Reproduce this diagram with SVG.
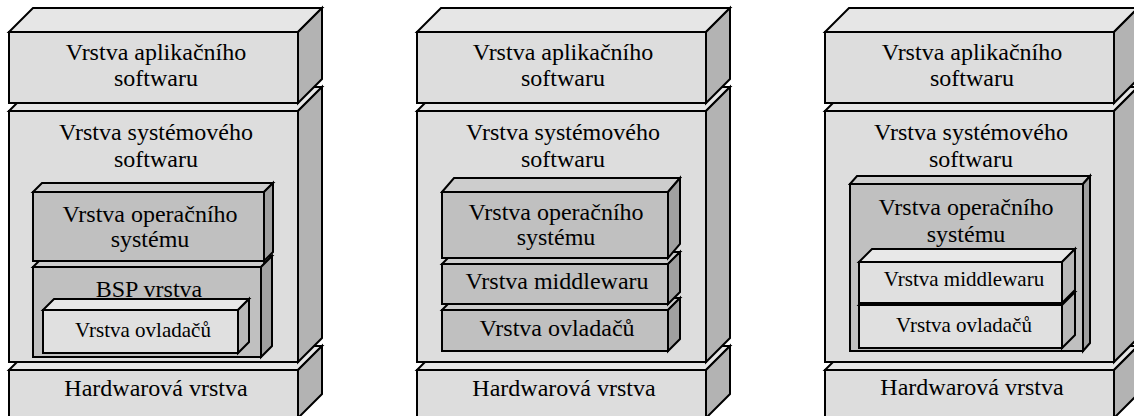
<svg xmlns="http://www.w3.org/2000/svg" width="1134" height="416" viewBox="0 0 1134 416">
  <style>
    polygon, rect { stroke: #000; stroke-width: 2; stroke-linejoin: miter; }
    .f1 { fill: #dddddd; } .t1 { fill: #e6e6e6; } .s1 { fill: #b3b3b3; }
    .f2 { fill: #c0c0c0; } .t2 { fill: #cdcdcd; } .s2 { fill: #a0a0a0; }
    .f3 { fill: #e0e0e0; } .t3 { fill: #e8e8e8; } .s3 { fill: #b8b8b8; }
    text { font-family: "Liberation Serif", "Times New Roman", serif; font-size: 24px; fill: #000; text-anchor: middle; }
    text.sm { font-size: 21px; }
  </style>

  <!-- Stack 1: BSP layer with drivers -->
  <g id="stack-bsp">
    <g id="hw-1">
      <polygon class="t1" points="9,370 33,346 322,346 298,370"/>
      <polygon class="s1" points="298,370 322,346 322,394 298,418"/>
      <rect class="f1" x="9" y="370" width="289" height="48"/>
      <text x="156" y="396">Hardwarová vrstva</text>
    </g>
    <g id="sys-1">
      <polygon class="t1" points="9,111 33,87 322,87 298,111"/>
      <polygon class="s1" points="298,111 322,87 322,338 298,362"/>
      <rect class="f1" x="9" y="111" width="289" height="251"/>
      <text x="156" y="140">Vrstva systémového</text>
      <text x="156" y="167">softwaru</text>
    </g>
    <g id="bsp-1">
      <polygon class="t2" points="33,267 44,256 272,256 261,267"/>
      <polygon class="s2" points="261,267 272,256 272,346 261,357"/>
      <rect class="f2" x="33" y="267" width="228" height="90"/>
      <text x="149" y="297">BSP vrstva</text>
    </g>
    <g id="drv-1">
      <polygon class="t3" points="43,310 54,299 249,299 238,310"/>
      <polygon class="s3" points="238,310 249,299 249,342 238,353"/>
      <rect class="f3" x="43" y="310" width="195" height="43"/>
      <text class="sm" x="143" y="337">Vrstva ovladačů</text>
    </g>
    <g id="os-1">
      <polygon class="t2" points="33,192 42,183 273,183 264,192"/>
      <polygon class="s2" points="264,192 273,183 273,252 264,261"/>
      <rect class="f2" x="33" y="192" width="231" height="69"/>
      <text x="150" y="222">Vrstva operačního</text>
      <text x="150" y="247">systému</text>
    </g>
    <g id="app-1">
      <polygon class="t1" points="9,32 33,8 322,8 298,32"/>
      <polygon class="s1" points="298,32 322,8 322,79 298,103"/>
      <rect class="f1" x="9" y="32" width="289" height="71"/>
      <text x="156" y="60">Vrstva aplikačního</text>
      <text x="156" y="86">softwaru</text>
    </g>
  </g>

  <!-- Stack 2: OS, middleware and drivers side by side -->
  <g id="stack-flat">
    <g id="hw-2">
      <polygon class="t1" points="417,370 441,346 730,346 706,370"/>
      <polygon class="s1" points="706,370 730,346 730,394 706,418"/>
      <rect class="f1" x="417" y="370" width="289" height="48"/>
      <text x="564" y="396">Hardwarová vrstva</text>
    </g>
    <g id="sys-2">
      <polygon class="t1" points="417,111 441,87 730,87 706,111"/>
      <polygon class="s1" points="706,111 730,87 730,338 706,362"/>
      <rect class="f1" x="417" y="111" width="289" height="251"/>
      <text x="563" y="140">Vrstva systémového</text>
      <text x="563" y="167">softwaru</text>
    </g>
    <g id="drv-2">
      <polygon class="t2" points="442,310 454,298 680,298 668,310"/>
      <polygon class="s2" points="668,310 680,298 680,339 668,351"/>
      <rect class="f2" x="442" y="310" width="226" height="41"/>
      <text x="557" y="336">Vrstva ovladačů</text>
    </g>
    <g id="mw-2">
      <polygon class="t2" points="442,264 454,252 680,252 668,264"/>
      <polygon class="s2" points="668,264 680,252 680,292 668,304"/>
      <rect class="f2" x="442" y="264" width="226" height="40"/>
      <text x="557" y="289">Vrstva middlewaru</text>
    </g>
    <g id="os-2">
      <polygon class="t2" points="442,192 454,178 680,178 668,192"/>
      <polygon class="s2" points="668,192 680,178 680,244 668,258"/>
      <rect class="f2" x="442" y="192" width="226" height="66"/>
      <text x="556" y="220">Vrstva operačního</text>
      <text x="556" y="245">systému</text>
    </g>
    <g id="app-2">
      <polygon class="t1" points="417,32 441,8 730,8 706,32"/>
      <polygon class="s1" points="706,32 730,8 730,79 706,103"/>
      <rect class="f1" x="417" y="32" width="289" height="71"/>
      <text x="563" y="60">Vrstva aplikačního</text>
      <text x="563" y="86">softwaru</text>
    </g>
  </g>

  <!-- Stack 3: middleware and drivers inside the OS layer -->
  <g id="stack-nested">
    <g id="hw-3">
      <polygon class="t1" points="825,370 849,346 1138,346 1114,370"/>
      <polygon class="s1" points="1114,370 1138,346 1138,394 1114,418"/>
      <rect class="f1" x="825" y="370" width="289" height="48"/>
      <text x="972" y="395">Hardwarová vrstva</text>
    </g>
    <g id="sys-3">
      <polygon class="t1" points="825,111 849,87 1138,87 1114,111"/>
      <polygon class="s1" points="1114,111 1138,87 1138,338 1114,362"/>
      <rect class="f1" x="825" y="111" width="289" height="251"/>
      <text x="971" y="140">Vrstva systémového</text>
      <text x="971" y="167">softwaru</text>
    </g>
    <g id="os-3">
      <polygon class="t2" points="850,184 857,176 1090,176 1083,184"/>
      <polygon class="s2" points="1083,184 1090,176 1090,343 1083,351"/>
      <rect class="f2" x="850" y="184" width="233" height="167"/>
      <text x="966" y="215">Vrstva operačního</text>
      <text x="966" y="242">systému</text>
    </g>
    <g id="drv-3">
      <polygon class="t3" points="859,305 872,292 1075,292 1062,305"/>
      <polygon class="s3" points="1062,305 1075,292 1075,335 1062,348"/>
      <rect class="f3" x="859" y="305" width="203" height="43"/>
      <text class="sm" x="964" y="332">Vrstva ovladačů</text>
    </g>
    <g id="mw-3">
      <polygon class="t3" points="859,262 872,249 1075,249 1062,262"/>
      <polygon class="s3" points="1062,262 1075,249 1075,290 1062,303"/>
      <rect class="f3" x="859" y="262" width="203" height="41"/>
      <text class="sm" x="964" y="286">Vrstva middlewaru</text>
    </g>
    <g id="app-3">
      <polygon class="t1" points="825,32 849,8 1138,8 1114,32"/>
      <polygon class="s1" points="1114,32 1138,8 1138,79 1114,103"/>
      <rect class="f1" x="825" y="32" width="289" height="71"/>
      <text x="972" y="60">Vrstva aplikačního</text>
      <text x="972" y="86">softwaru</text>
    </g>
  </g>
</svg>
